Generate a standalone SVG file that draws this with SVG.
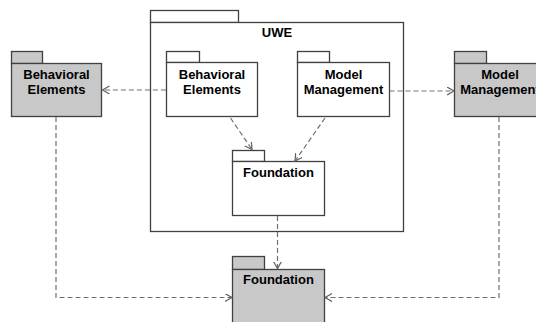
<svg xmlns="http://www.w3.org/2000/svg" width="536" height="322" viewBox="0 0 536 322">
  <style>
    .pkg { fill: #ffffff; stroke: #404040; stroke-width: 1.3; }
    .pkg.ext { fill: #c8c8c8; }
    .lbl { font-family: "Liberation Sans", Arial, sans-serif; font-weight: bold; font-size: 13px; fill: #000; text-anchor: middle; }
    .dep { fill: none; stroke: #707070; stroke-width: 1.2; stroke-dasharray: 5 3; }
  </style>
  <defs>
    <marker id="open" markerUnits="userSpaceOnUse" markerWidth="10" markerHeight="10" refX="7" refY="4" orient="auto">
      <path d="M0,0 L7,4 L0,8" fill="none" stroke="#606060" stroke-width="1.2"/>
    </marker>
  </defs>
  <rect width="536" height="322" fill="#ffffff"/>

  <!-- UWE container package -->
  <g id="uwe">
    <rect class="pkg" x="150.5" y="10.5" width="88" height="12"/>
    <rect class="pkg" x="150.5" y="22.5" width="253" height="209"/>
    <text class="lbl" x="277" y="37">UWE</text>
  </g>

  <g id="uwe-behavioral">
    <rect class="pkg" x="166.5" y="51.5" width="33" height="11"/>
    <rect class="pkg" x="166.5" y="62.5" width="91" height="54"/>
    <text class="lbl" x="212" y="78.5">Behavioral</text>
    <text class="lbl" x="212" y="94">Elements</text>
  </g>

  <g id="uwe-model">
    <rect class="pkg" x="297.5" y="51.5" width="32" height="11"/>
    <rect class="pkg" x="297.5" y="62.5" width="92" height="54"/>
    <text class="lbl" x="343.5" y="78.5">Model</text>
    <text class="lbl" x="343.5" y="94">Management</text>
  </g>

  <g id="uwe-foundation">
    <rect class="pkg" x="232.5" y="150.5" width="32" height="11"/>
    <rect class="pkg" x="232.5" y="161.5" width="92" height="54"/>
    <text class="lbl" x="278.5" y="177">Foundation</text>
  </g>

  <!-- external packages -->
  <g id="behavioral">
    <rect class="pkg ext" x="11.5" y="51.5" width="31" height="12"/>
    <rect class="pkg ext" x="11.5" y="63.5" width="90" height="53"/>
    <text class="lbl" x="56.5" y="78.5">Behavioral</text>
    <text class="lbl" x="56.5" y="94">Elements</text>
  </g>

  <g id="model">
    <rect class="pkg ext" x="454.5" y="51.5" width="32" height="12"/>
    <rect class="pkg ext" x="454.5" y="63.5" width="92" height="53"/>
    <text class="lbl" x="500" y="78.5">Model</text>
    <text class="lbl" x="500" y="94">Management</text>
  </g>

  <g id="foundation">
    <rect class="pkg ext" x="232.5" y="256.5" width="32" height="13"/>
    <rect class="pkg ext" x="232.5" y="269.5" width="92" height="60"/>
    <text class="lbl" x="278.5" y="284">Foundation</text>
  </g>

  <!-- dependencies -->
  <g id="connectors">
    <path class="dep" d="M166,90 L102.5,90" marker-end="url(#open)"/>
    <path class="dep" d="M389.5,91 L454,91" marker-end="url(#open)"/>
    <path class="dep" d="M230.5,118 L252,149.5" marker-end="url(#open)"/>
    <path class="dep" d="M325,118 L295,161" marker-end="url(#open)"/>
    <path class="dep" d="M277.5,216 L277.5,268.5" marker-end="url(#open)"/>
    <path class="dep" d="M56,117 L56,297.5 L232,297.5" marker-end="url(#open)"/>
    <path class="dep" d="M499,117 L499,297.5 L325,297.5" marker-end="url(#open)"/>
  </g>
</svg>
